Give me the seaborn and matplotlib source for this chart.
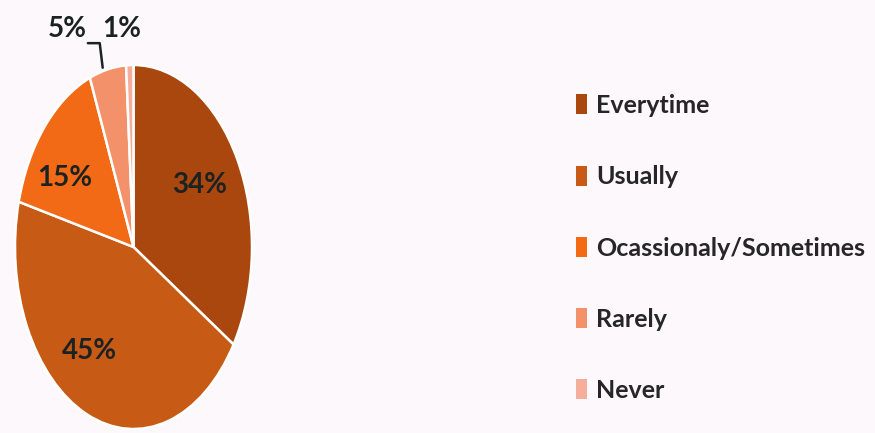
import matplotlib
matplotlib.use("Agg")
import matplotlib.pyplot as plt
import seaborn as sns
from matplotlib.patches import Patch

sns.set_theme(style="white")
plt.rcParams['font.family'] = ['Lato', 'DejaVu Sans']

categories = ["Everytime", "Usually", "Ocassionaly/Sometimes", "Rarely", "Never"]
values = [34, 45, 15, 5, 1]
colors = ["#A9470F", "#C75A14", "#F26A15", "#F3926A", "#F5AD9C"]

# label placement (axes data coords; pie radius 1, squashed)
label_pos = [(0.56, 0.34), (-0.37, -0.57), (-0.58, 0.38), (-0.56, 1.20), (-0.10, 1.20)]

bg = "#FCF8FB"
txt = "#1C2222"

fig = plt.figure(figsize=(8.75, 4.33), dpi=100, facecolor=bg)
ax = fig.add_axes([15/875, 4/433, 237/875, 364/433])
ax.set_facecolor(bg)

wedges, _, autotexts = ax.pie(
    values, colors=colors, startangle=90, counterclock=False,
    autopct='%.0f%%', pctdistance=0.6,
    wedgeprops=dict(edgecolor="white", linewidth=1.8),
    textprops=dict(color=txt, fontsize=20, fontweight="bold"),
)
for t, p in zip(autotexts, label_pos):
    t.set_position(p)
    t.set_ha("center"); t.set_va("center")

# leader line for the 5% slice
ax.plot([-0.385, -0.285, -0.26], [1.12, 1.12, 0.985], color=txt, lw=1.8, clip_on=False)

ax.set_aspect("auto")
ax.set_xlim(-1, 1)
ax.set_ylim(-1, 1)
ax.axis("off")

handles = [Patch(facecolor=c, edgecolor="none") for c in colors]
fig.legend(handles, categories, loc="upper left", bbox_to_anchor=(566/875, 1 - 84/433),
           frameon=False, labelspacing=1.93, handlelength=0.42,
           handleheight=0.85, handletextpad=0.4, borderaxespad=0,
           prop=dict(weight="bold", size=18))

fig.savefig("out.png", dpi=100, facecolor=bg)
